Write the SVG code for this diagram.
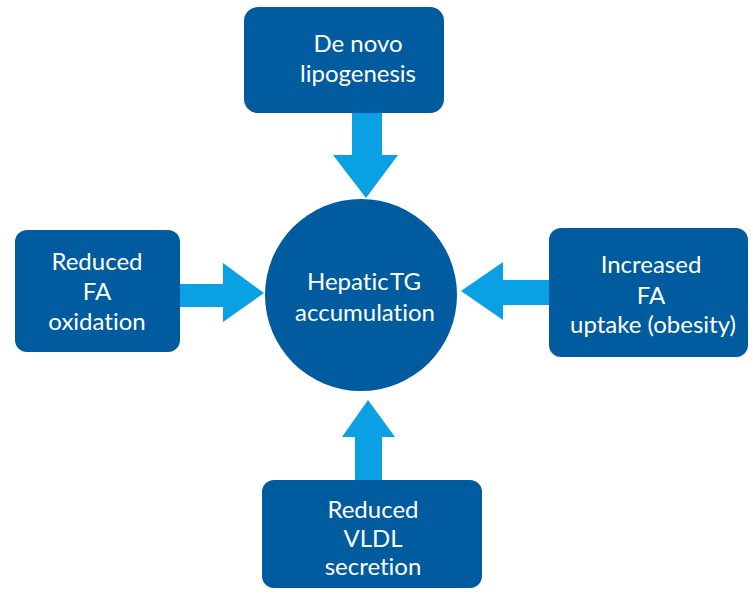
<svg xmlns="http://www.w3.org/2000/svg" width="753" height="600" viewBox="0 0 753 600">
<style>
.box{fill:#005b9f;}
.arrow{fill:#0aa0e4;}
text{font-family:Lato,"Open Sans","Liberation Sans",sans-serif;font-size:24px;fill:#ffffff;text-anchor:middle;font-variant-ligatures:none;}
</style>
<rect width="753" height="600" fill="#ffffff"/>
<g id="connectors">
<polygon class="arrow" points="352,113 382,113 382,155 398,155 366,198 333,155 352,155"/>
<polygon class="arrow" points="180,284 223,284 223,263 264,293 223,322 223,307 180,307"/>
<polygon class="arrow" points="549,280 503,280 503,262 461,291 503,320 503,305 549,305"/>
<polygon class="arrow" points="355,480 382,480 382,437 395,437 368,400 342,437 355,437"/>
</g>
<g id="center">
<circle cx="361" cy="295" r="96" class="box"/>
<text x="364" y="290" word-spacing="-4">Hepatic TG</text>
<text x="365" y="321">accumulation</text>
</g>
<g id="top">
<rect x="244" y="7" width="200" height="106" rx="14" class="box"/>
<text x="358" y="52">De novo</text>
<text x="358" y="82">lipogenesis</text>
</g>
<g id="left">
<rect x="15" y="230" width="165" height="122" rx="12" class="box"/>
<text x="97" y="270">Reduced</text>
<text x="97" y="300">FA</text>
<text x="97" y="330">oxidation</text>
</g>
<g id="right">
<rect x="549" y="228" width="199" height="129" rx="12" class="box"/>
<text x="651" y="273">Increased</text>
<text x="651" y="304">FA</text>
<text x="653" y="333">uptake (obesity)</text>
</g>
<g id="bottom">
<rect x="262" y="480" width="220" height="108" rx="12" class="box"/>
<text x="373" y="518">Reduced</text>
<text x="373" y="547">VLDL</text>
<text x="373" y="575">secretion</text>
</g>
</svg>
